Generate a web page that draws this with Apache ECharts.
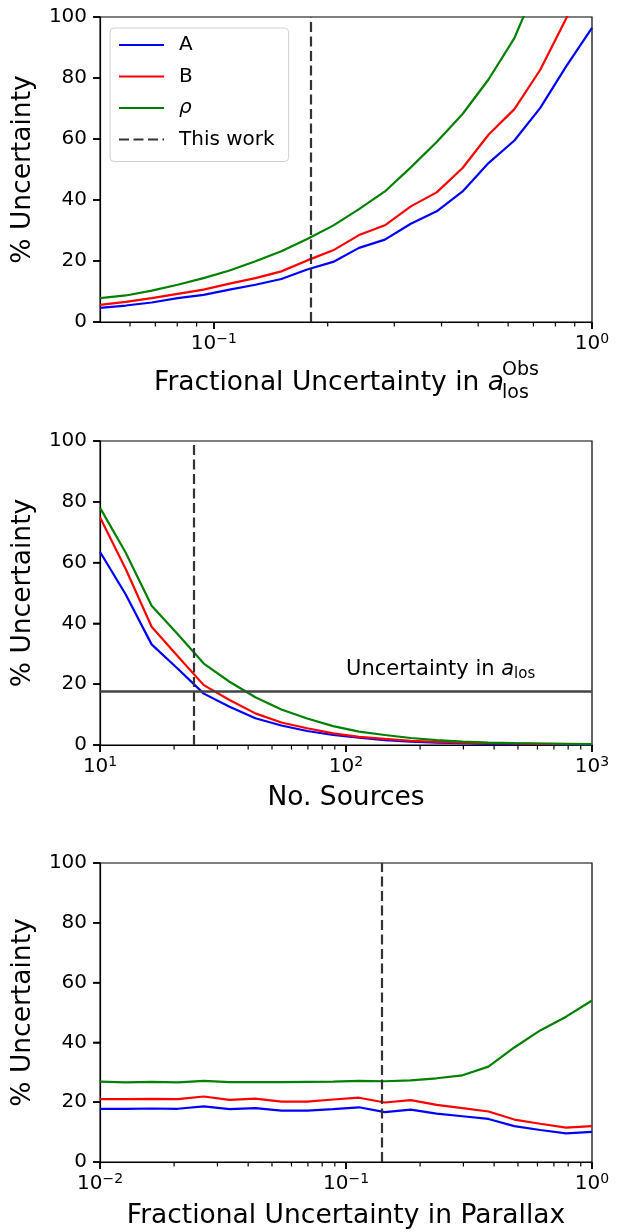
<!DOCTYPE html>
<html>
<head>
<meta charset="utf-8">
<script src="https://cdn.jsdelivr.net/npm/echarts@6/dist/echarts.min.js"></script>
<style>
html,body{margin:0;padding:0;background:#fff;}
#c{width:620px;height:1232px;}
</style>
</head>
<body>
<div id="c"></div>
<script>
// ---------- data ----------
// Panel 1: fractional uncertainty in a_los^Obs
const x1 = [0.05, 0.0585, 0.0685, 0.0802, 0.0939, 0.1100, 0.1288, 0.1508, 0.1765, 0.2067, 0.2420, 0.2833, 0.3317, 0.3884, 0.4547, 0.5324, 0.6234, 0.7298, 0.8545, 1.0];
const a1 = [4.6, 5.4, 6.4, 7.8, 8.9, 10.6, 12.2, 14.1, 17.2, 19.7, 24.3, 27.0, 32.2, 36.3, 42.8, 52.1, 59.5, 70.2, 83.8, 96.4];
const b1 = [5.6, 6.6, 7.8, 9.2, 10.6, 12.6, 14.4, 16.6, 20.2, 23.5, 28.5, 31.7, 37.9, 42.5, 50.5, 61.4, 69.8, 82.7, 99.5, 118];
const r1 = [7.8, 8.7, 10.3, 12.2, 14.4, 16.9, 19.9, 23.2, 27.2, 31.6, 37.0, 42.8, 50.7, 59.0, 68.2, 79.5, 93.1, 113, 135, 160];

// Panel 2: number of sources
const x2 = [10, 12.7, 16.2, 20.7, 26.4, 33.6, 42.8, 54.6, 69.5, 88.6, 112.9, 143.8, 183.3, 233.6, 297.6, 379.3, 483.3, 615.8, 784.8, 1000];
const a2 = [63.5, 49.6, 33.1, 25.1, 16.9, 12.6, 8.8, 6.4, 4.6, 3.3, 2.4, 1.6, 1.1, 0.8, 0.6, 0.4, 0.3, 0.25, 0.2, 0.15];
const b2 = [74.8, 58.0, 38.9, 29.2, 19.7, 14.8, 10.4, 7.4, 5.5, 3.8, 2.7, 2.0, 1.4, 1.0, 0.8, 0.6, 0.5, 0.4, 0.3, 0.25];
const r2 = [78.0, 63.3, 45.8, 36.4, 26.8, 20.8, 15.7, 11.7, 8.7, 6.2, 4.4, 3.3, 2.3, 1.6, 1.1, 0.8, 0.6, 0.5, 0.4, 0.3];

// Panel 3: fractional uncertainty in parallax
const x3 = [0.01, 0.0127, 0.0162, 0.0207, 0.0264, 0.0336, 0.0428, 0.0546, 0.0695, 0.0886, 0.1129, 0.1438, 0.1833, 0.2336, 0.2976, 0.3793, 0.4833, 0.6158, 0.7848, 1.0];
const a3 = [17.8, 17.8, 17.9, 17.8, 18.6, 17.7, 18.0, 17.2, 17.2, 17.7, 18.3, 16.7, 17.5, 16.2, 15.3, 14.4, 12.0, 10.7, 9.6, 10.1];
const b3 = [21.0, 21.0, 21.1, 21.0, 21.9, 20.8, 21.2, 20.2, 20.2, 20.9, 21.5, 19.9, 20.7, 19.1, 18.0, 16.9, 14.2, 12.8, 11.5, 12.0];
const r3 = [26.9, 26.6, 26.8, 26.6, 27.1, 26.7, 26.7, 26.7, 26.8, 26.9, 27.1, 27.0, 27.3, 28.0, 29.0, 31.9, 38.3, 44.0, 48.6, 54.0];

// "This work" reference values (vertical dashed lines) and a_los uncertainty level
const thisWork = [0.18, 24, 0.14];
const alosLevel = 17.8;

// Axis ranges and tick values
const xMin = [0.05, 10, 0.01];
const xMax = [1, 1000, 1];
const xMajor1 = [0.1, 1];
const xMajor2 = [10, 100, 1000];
const xMajor3 = [0.01, 0.1, 1];
const xMinor1 = [0.06, 0.07, 0.08, 0.09, 0.2, 0.3, 0.4, 0.5, 0.6, 0.7, 0.8, 0.9];
const xMinor2 = [20, 30, 40, 50, 60, 70, 80, 90, 200, 300, 400, 500, 600, 700, 800, 900];
const xMinor3 = [0.02, 0.03, 0.04, 0.05, 0.06, 0.07, 0.08, 0.09, 0.2, 0.3, 0.4, 0.5, 0.6, 0.7, 0.8, 0.9];
const yTicks = [0, 20, 40, 60, 80, 100];

const seriesNames = ['A', 'B', 'ρ'];
const seriesColors = ['#0000ff', '#ff0000', '#008000'];
const legendNames = ['A', 'B', 'ρ', 'This work'];

// ---------- chart ----------
const FONT = 'DejaVu Sans';
const chart = echarts.init(document.getElementById('c'), null, {renderer: 'canvas'});

const gridPos = [
  {left: 100, top: 17, width: 492, height: 305},
  {left: 100, top: 441, width: 492, height: 304},
  {left: 100, top: 863, width: 492, height: 305}
];
const grids = gridPos.map(g => Object.assign({show: true, borderColor: '#000', borderWidth: 1.2}, g));

function logLabel(v) {
  const e = Math.round(Math.log10(v));
  const s = e < 0 ? '\u2212' + (-e) : String(e);
  return '{b|10}{s|' + s + '}';
}
const tickRich = {
  b: {fontSize: 20, fontFamily: FONT, color: '#000', lineHeight: 24},
  s: {fontSize: 14, fontFamily: FONT, color: '#000', lineHeight: 11, verticalAlign: 'top'}
};

const xNames = [
  '{n|Fractional Uncertainty in }{i|a}{g|}',
  'No. Sources',
  'Fractional Uncertainty in Parallax'
];
const xNameGaps = [46, 38, 39];
const majors = [xMajor1, xMajor2, xMajor3];
const minors = [xMinor1, xMinor2, xMinor3];
const NAME_SIZE = 26.5;

const xAxes = [];
const yAxes = [];
for (let i = 0; i < 3; i++) {
  xAxes.push({
    type: 'log', logBase: 10, gridIndex: i, min: xMin[i], max: xMax[i],
    axisLine: {show: true, lineStyle: {color: '#000', width: 1.2}},
    axisTick: {show: true, inside: false, length: 7, lineStyle: {color: '#000', width: 1.5}, customValues: majors[i]},
    axisLabel: {show: true, customValues: majors[i], formatter: logLabel, margin: 10, rich: tickRich},
    splitLine: {show: false},
    name: xNames[i], nameLocation: 'middle', nameGap: xNameGaps[i],
    nameTextStyle: {fontSize: NAME_SIZE, fontFamily: FONT, color: '#000', lineHeight: 30,
      rich: {
        n: {fontSize: NAME_SIZE, fontFamily: FONT, color: '#000', lineHeight: 30},
        i: {fontSize: NAME_SIZE, fontFamily: FONT, fontStyle: 'italic', color: '#000', lineHeight: 30},
        g: {width: 34}
      }}
  });
  yAxes.push({
    type: 'value', gridIndex: i, min: 0, max: 100, interval: 20,
    axisLine: {show: true, lineStyle: {color: '#000', width: 1.2}},
    axisTick: {show: true, inside: false, length: 7, lineStyle: {color: '#000', width: 1.5}},
    axisLabel: {fontSize: 20, fontFamily: FONT, color: '#000', margin: 13},
    splitLine: {show: false},
    name: '% Uncertainty', nameLocation: 'middle', nameGap: 52,
    nameTextStyle: {fontSize: NAME_SIZE, fontFamily: FONT, color: '#000', lineHeight: 30}
  });
}

const panels = [
  {xs: x1, ys: [a1, b1, r1]},
  {xs: x2, ys: [a2, b2, r2]},
  {xs: x3, ys: [a3, b3, r3]}
];

const dashType = [10, 4.5];
const dashColor = '#333';
const series = [];
panels.forEach((p, i) => {
  p.ys.forEach((arr, k) => {
    series.push({
      type: 'line', name: seriesNames[k], xAxisIndex: i, yAxisIndex: i,
      data: p.xs.map((x, j) => [x, arr[j]]),
      symbol: 'none', clip: true, silent: true,
      lineStyle: {color: seriesColors[k], width: 2.2},
      itemStyle: {color: seriesColors[k]},
      emphasis: {disabled: true}
    });
  });
  series.push({
    type: 'line', name: 'This work', xAxisIndex: i, yAxisIndex: i,
    data: [], symbol: 'none', silent: true,
    lineStyle: {color: dashColor, width: 2.2, type: dashType},
    itemStyle: {color: dashColor},
    markLine: {
      silent: true, symbol: ['none', 'none'], label: {show: false},
      lineStyle: {color: dashColor, width: 2.2, type: dashType},
      emphasis: {disabled: true},
      data: [{xAxis: thisWork[i]}]
    }
  });
});
// a_los uncertainty level in panel 2
series.push({
  type: 'line', name: 'alos', xAxisIndex: 1, yAxisIndex: 1, data: [], symbol: 'none', silent: true,
  markLine: {
    silent: true, symbol: ['none', 'none'], label: {show: false},
    lineStyle: {color: '#444', width: 2.5, type: 'solid'},
    emphasis: {disabled: true},
    data: [{yAxis: alosLevel}]
  },
  markPoint: {
    silent: true, symbol: 'circle', symbolSize: 0,
    label: {
      show: true, position: 'right', distance: 0,
      formatter: '{n|Uncertainty in }{i|a}{s|los}',
      rich: {
        n: {fontSize: 21, fontFamily: FONT, color: '#000', lineHeight: 24},
        i: {fontSize: 21, fontFamily: FONT, fontStyle: 'italic', color: '#000', lineHeight: 24},
        s: {fontSize: 15, fontFamily: FONT, color: '#000', lineHeight: 14, verticalAlign: 'bottom'}
      }
    },
    data: [{coord: [100, 24.7]}]
  }
});

const option = {
  animation: false,
  backgroundColor: '#fff',
  grid: grids,
  xAxis: xAxes,
  yAxis: yAxes,
  legend: {
    show: true, left: 110, top: 28, orient: 'vertical',
    data: legendNames, selectedMode: false,
    itemWidth: 45, itemHeight: 20, itemGap: 11.5,
    padding: [7, 14, 12, 8],
    borderColor: '#d0d0d0', borderWidth: 1, borderRadius: 4,
    backgroundColor: 'rgba(255,255,255,0.8)',
    itemStyle: {opacity: 0},
    formatter: name => name === 'ρ' ? '{i|ρ}' : name,
    textStyle: {fontSize: 20, fontFamily: FONT, color: '#000', padding: [0, 0, 0, 10],
      rich: {i: {fontSize: 20, fontFamily: FONT, fontStyle: 'italic', color: '#000'}}}
  },
  series: series
};
chart.setOption(option);

// Tick marks placed through the library's own axis scales (convertToPixel)
const graphics = [
  {type: 'text', x: 502, y: 370, silent: true, z: 100,
   style: {text: 'Obs', fontSize: 19, fontFamily: FONT, fill: '#000', align: 'left', verticalAlign: 'middle'}},
  {type: 'text', x: 502, y: 393, silent: true, z: 100,
   style: {text: 'los', fontSize: 19, fontFamily: FONT, fill: '#000', align: 'left', verticalAlign: 'middle'}}
];
for (let i = 0; i < 3; i++) {
  const yBottom = chart.convertToPixel({yAxisIndex: i}, 0);
  const xLeft = chart.convertToPixel({xAxisIndex: i}, xMin[i]);
  const addX = (v, len, w) => {
    const px = chart.convertToPixel({xAxisIndex: i}, v);
    if (!isFinite(px) || !isFinite(yBottom)) return;
    graphics.push({type: 'line', silent: true, z: 100,
      shape: {x1: px, y1: yBottom, x2: px, y2: yBottom + len},
      style: {stroke: '#000', lineWidth: w}});
  };
  majors[i].forEach(v => addX(v, 7, 1.5));
  minors[i].forEach(v => addX(v, 4.5, 1.2));
  yTicks.forEach(v => {
    const py = chart.convertToPixel({yAxisIndex: i}, v);
    if (!isFinite(py) || !isFinite(xLeft)) return;
    graphics.push({type: 'line', silent: true, z: 100,
      shape: {x1: xLeft - 7, y1: py, x2: xLeft, y2: py},
      style: {stroke: '#000', lineWidth: 1.5}});
  });
}
chart.setOption({graphic: graphics});
</script>
</body>
</html>
